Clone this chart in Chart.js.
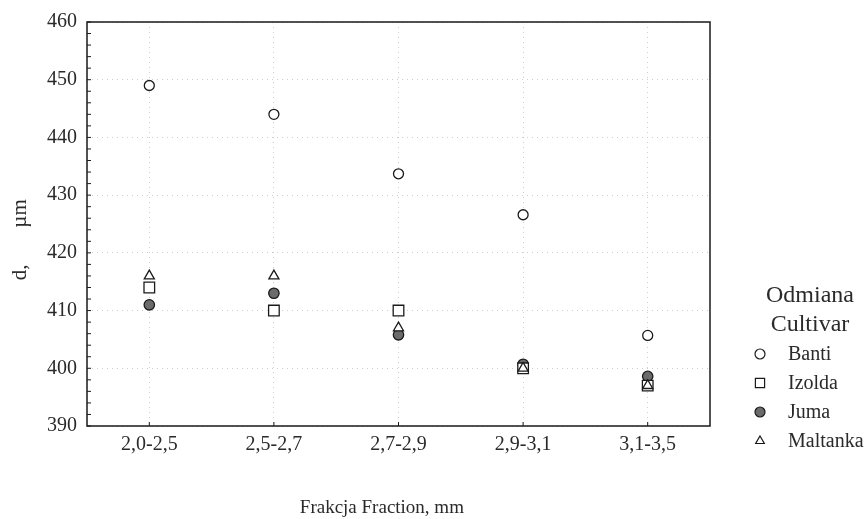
<!DOCTYPE html>
<html>
<head>
<meta charset="utf-8">
<script src="https://cdn.jsdelivr.net/npm/chart.js@4/dist/chart.umd.min.js"></script>
<style>
html, body { margin: 0; padding: 0; background: #fff; }
</style>
</head>
<body>
<canvas id="chart" width="867" height="519"></canvas>
<script>
let fractions = ['2,0-2,5', '2,5-2,7', '2,7-2,9', '2,9-3,1', '3,1-3,5'];
let banti = [449, 444, 433.7, 426.6, 405.7];
let izolda = [414, 410, 410, 400, 397];
let juma = [411, 413, 405.8, 400.7, 398.6];
let maltanka = [416, 416, 407, 400, 397];
let yMin = 390;
let yMax = 460;
let legendTitle = ['Odmiana', 'Cultivar'];

const textColor = '#2a2a2a';
const gridColor = '#cdcdcd';
const serif = '"Liberation Serif", "DejaVu Serif", serif';

// small marker drawer, used only for the legend
function drawMarker(ctx, style, x, y, r) {
    ctx.beginPath();
    if (style === 'circle') {
        ctx.arc(x, y, r, 0, Math.PI * 2);
    } else if (style === 'rect') {
        let s = r * Math.SQRT1_2;
        ctx.rect(x - s, y - s, 2 * s, 2 * s);
    } else if (style === 'triangle') {
        ctx.moveTo(x, y - r);
        ctx.lineTo(x + r * 0.866, y + r * 0.5);
        ctx.lineTo(x - r * 0.866, y + r * 0.5);
        ctx.closePath();
    }
    ctx.fill();
    ctx.stroke();
}

const cultivarLegend = {
    id: 'cultivarLegend',
    afterDraw(chart) {
        const ctx = chart.ctx;
        ctx.save();
        ctx.fillStyle = textColor;
        ctx.textBaseline = 'middle';
        ctx.textAlign = 'center';
        ctx.font = '24px ' + serif;
        legendTitle.forEach(function(t, i) {
            ctx.fillText(t, 810, 296 + i * 29);
        });
        ctx.textAlign = 'left';
        ctx.font = '20px ' + serif;
        chart.data.datasets.forEach(function(ds, i) {
            let y = 354 + i * 29;
            ctx.fillStyle = ds.pointBackgroundColor;
            ctx.strokeStyle = ds.pointBorderColor;
            ctx.lineWidth = 1.2;
            drawMarker(ctx, ds.pointStyle, 760, y, ds.pointStyle === 'rect' ? 6.5 : 5);
            ctx.fillStyle = textColor;
            ctx.fillText(ds.label, 788, y + 1);
        });
        ctx.restore();
    }
};

const plotFrame = {
    id: 'plotFrame',
    afterDatasetsDraw(chart) {
        const ctx = chart.ctx;
        const a = chart.chartArea;
        ctx.save();
        ctx.strokeStyle = '#1a1a1a';
        ctx.lineWidth = 1.5;
        ctx.strokeRect(a.left, a.top, a.right - a.left, a.bottom - a.top);
        ctx.lineWidth = 1;
        ctx.beginPath();
        chart.scales.y.ticks.forEach(function(t, i) {
            let py = chart.scales.y.getPixelForTick(i);
            ctx.moveTo(a.left, py);
            ctx.lineTo(a.left + 4, py);
        });
        chart.scales.x.ticks.forEach(function(t, i) {
            let px = chart.scales.x.getPixelForTick(i);
            ctx.moveTo(px, a.bottom);
            ctx.lineTo(px, a.bottom - 4);
        });
        ctx.stroke();
        ctx.restore();
    }
};

function makeSeries(label, data, style, fill, radius, order) {
    return {
        label: label,
        data: data,
        showLine: false,
        pointStyle: style,
        pointRadius: radius,
        pointHoverRadius: radius,
        pointBackgroundColor: fill,
        pointBorderColor: '#1a1a1a',
        pointBorderWidth: 1.3,
        order: order
    };
}

new Chart(document.getElementById('chart').getContext('2d'), {
    type: 'line',
    data: {
        labels: fractions,
        datasets: [
            makeSeries('Banti', banti, 'circle', '#ffffff', 5, 0),
            makeSeries('Izolda', izolda, 'rect', '#ffffff', 7.5, 2),
            makeSeries('Juma', juma, 'circle', '#6b6b6b', 5.2, 3),
            makeSeries('Maltanka', maltanka, 'triangle', '#ffffff', 5.8, 1)
        ]
    },
    options: {
        responsive: false,
        animation: false,
        layout: { padding: { left: 0, top: 19, right: 157, bottom: 0 } },
        plugins: {
            legend: { display: false },
            tooltip: { enabled: false }
        },
        scales: {
            x: {
                offset: true,
                grid: {
                    offset: false,
                    color: gridColor,
                    lineWidth: 1,
                    drawTicks: false
                },
                border: { display: false, dash: [1, 4] },
                ticks: {
                    color: textColor,
                    font: { family: serif, size: 20 },
                    padding: 7,
                    maxRotation: 0
                },
                title: {
                    display: true,
                    text: 'Frakcja Fraction, mm\u00a0\u00a0\u00a0\u00a0\u00a0\u00a0\u00a0',
                    color: textColor,
                    font: { family: serif, size: 19 },
                    padding: 0
                },
                afterFit: function(scale) { scale.height = 93; }
            },
            y: {
                min: yMin,
                max: yMax,
                grid: {
                    color: function(c) {
                        return c.tick && c.tick.value % 10 === 0 ? gridColor : 'rgba(0,0,0,0)';
                    },
                    lineWidth: 1,
                    drawTicks: false
                },
                border: { display: false, dash: [1, 4] },
                ticks: {
                    stepSize: 2,
                    autoSkip: false,
                    color: textColor,
                    font: { family: serif, size: 20 },
                    padding: 10,
                    callback: function(v) { return v % 10 === 0 ? v : ''; }
                },
                title: {
                    display: true,
                    text: 'd,\u00a0\u00a0\u00a0\u00a0\u00a0\u00a0\u00a0µm\u00a0\u00a0\u00a0\u00a0\u00a0\u00a0',
                    color: textColor,
                    font: { family: serif, size: 21 },
                    padding: { top: 8, bottom: 0 }
                },
                afterFit: function(scale) { scale.width = 87; }
            }
        }
    },
    plugins: [plotFrame, cultivarLegend]
});
</script>
</body>
</html>
